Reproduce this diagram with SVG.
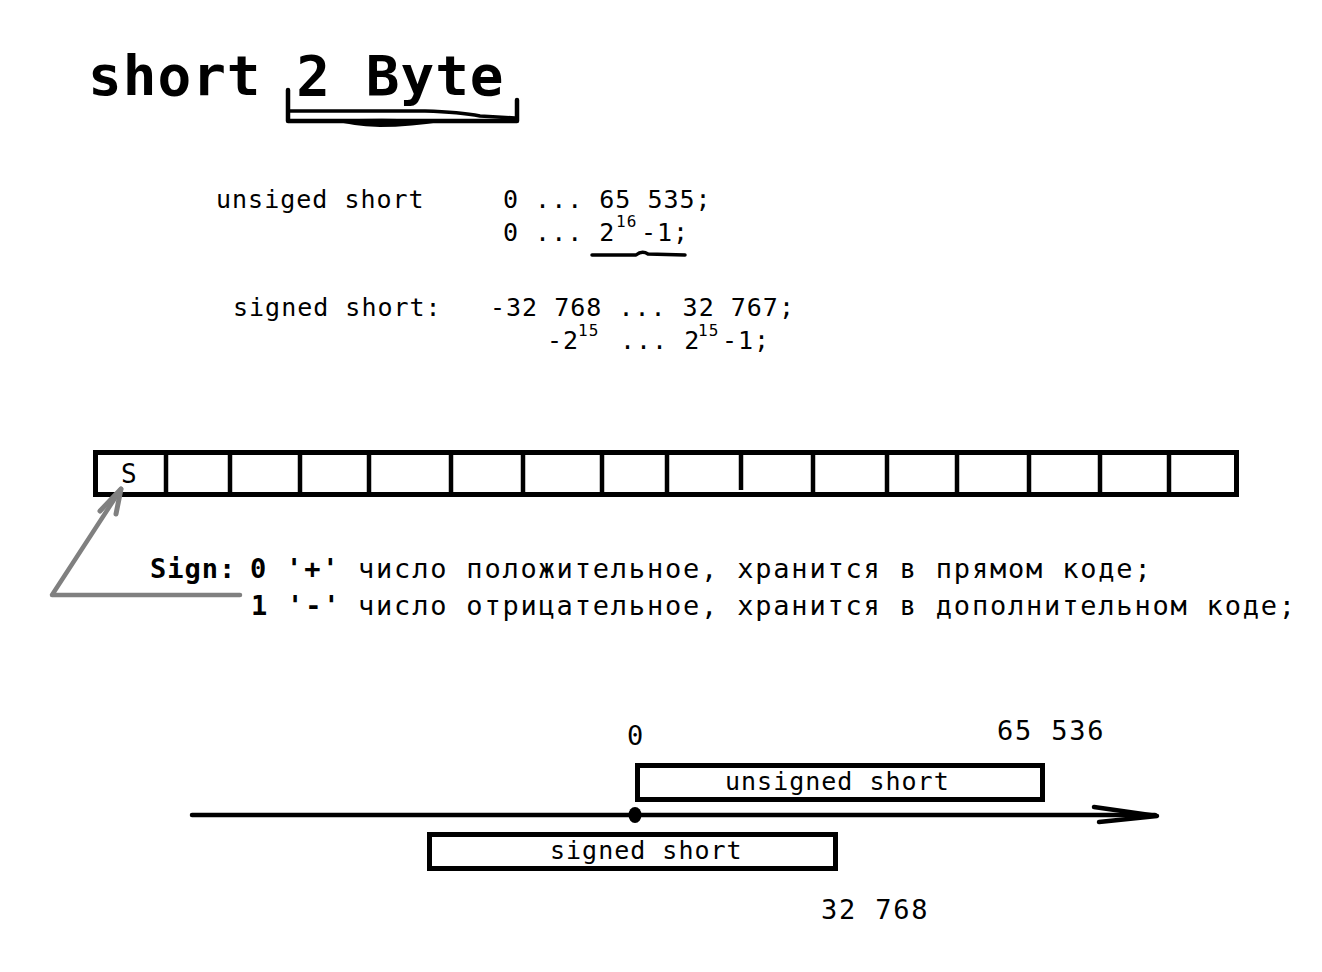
<svg xmlns="http://www.w3.org/2000/svg" width="1322" height="972" viewBox="0 0 1322 972">
<style>
.t{font-family:"DejaVu Sans Mono","Liberation Mono",monospace;font-size:25px;letter-spacing:1px;fill:#000}
.sup{font-family:"DejaVu Sans Mono","Liberation Mono",monospace;font-size:16px;letter-spacing:1px;fill:#000}
.r{font-family:"DejaVu Sans Mono","Liberation Mono",monospace;font-size:27px;letter-spacing:1.8px;fill:#000}
.b{font-weight:bold}
.box{fill:none;stroke:#000;stroke-width:5}
.ln{fill:none;stroke:#000;stroke-width:4.5;stroke-linecap:round;stroke-linejoin:round}
.gray{fill:none;stroke:#808080;stroke-width:4.5;stroke-linecap:round;stroke-linejoin:round}
</style>
<rect width="1322" height="972" fill="#fff"/>

<g id="title">
<text x="88" y="95" style="font-family:'DejaVu Sans Mono','Liberation Mono',monospace;font-size:56px;font-weight:bold;letter-spacing:1px">short 2 Byte</text>
<path class="ln" d="M288,90 L288,121 L517,121 L517,100"/>
<path class="ln" d="M290,111 L425,111 Q460,112 480,116 L515,118" style="stroke-width:3.5"/>
<path d="M333,120 Q390,117 447,121 Q410,127 380,127 Q350,126 333,120 Z" fill="#000"/>
</g>

<g id="unsigned-range">
<text class="t" x="216" y="208">unsiged short</text>
<text class="t" x="503" y="208">0 ... 65 535;</text>
<text class="t" x="503" y="241">0 ... 2</text>
<text class="sup" x="616" y="227">16</text>
<text class="t" x="641" y="241">-1;</text>
<path class="ln" d="M592,255 L636,255 Q642,250 648,254 L685,255" style="stroke-width:3.5"/>
</g>

<g id="signed-range">
<text class="t" x="233" y="316">signed short:</text>
<text class="t" x="490" y="316">-32 768 ... 32 767;</text>
<text class="t" x="547" y="349">-2</text>
<text class="sup" x="578" y="336">15</text>
<text class="t" x="620" y="349">... 2</text>
<text class="sup" x="698" y="336">15</text>
<text class="t" x="722" y="349">-1;</text>
</g>

<g id="bits">
<rect class="box" x="95.5" y="452.5" width="1141" height="42"/>
<g class="ln" style="stroke-linecap:butt">
<line x1="166" y1="452" x2="166" y2="495"/>
<line x1="230" y1="452" x2="230" y2="495"/>
<line x1="300" y1="452" x2="300" y2="495"/>
<line x1="369" y1="452" x2="369" y2="495"/>
<line x1="451" y1="452" x2="451" y2="493"/>
<line x1="523" y1="452" x2="523" y2="495"/>
<line x1="602" y1="452" x2="602" y2="495"/>
<line x1="667" y1="452" x2="667" y2="495"/>
<line x1="741" y1="452" x2="741" y2="490"/>
<line x1="813" y1="452" x2="813" y2="495"/>
<line x1="887" y1="452" x2="887" y2="495"/>
<line x1="957" y1="452" x2="957" y2="495"/>
<line x1="1029" y1="452" x2="1029" y2="495"/>
<line x1="1100" y1="452" x2="1100" y2="495"/>
<line x1="1169" y1="452" x2="1169" y2="495"/>
</g>
<text class="t" x="121" y="483" style="font-size:26px;letter-spacing:0">S</text>
</g>

<g id="sign-note">
<text class="r b" x="150" y="578" style="letter-spacing:1px">Sign:</text>
<text class="r b" x="250" y="578">0 '+'</text>
<text class="r" x="358" y="578">число положительное, хранится в прямом коде;</text>
<text class="r b" x="251" y="615">1 '-'</text>
<text class="r" x="358" y="615">число отрицательное, хранится в дополнительном коде;</text>
</g>

<g id="connectors">
<path class="gray" d="M240,595 L52,595 L121,489"/>
<path class="gray" d="M100,511 L121,489 L116,514" style="stroke-width:5"/>
</g>

<g id="number-line">
<line class="ln" x1="192" y1="815" x2="1155" y2="815"/>
<path class="ln" d="M1094,807 L1157,816 L1099,822"/>
<ellipse cx="635" cy="815" rx="6.5" ry="8" fill="#000"/>
<text class="r" x="627" y="745">0</text>
<text class="r" x="997" y="740">65 536</text>
<text class="r" x="821" y="919">32 768</text>
</g>

<g id="unsigned-bar">
<rect class="box" x="637.5" y="765.5" width="405" height="34"/>
<text class="t" x="725" y="790">unsigned short</text>
</g>

<g id="signed-bar">
<rect class="box" x="429.5" y="834.5" width="406" height="34"/>
<text class="t" x="550" y="859">signed short</text>
</g>
</svg>
